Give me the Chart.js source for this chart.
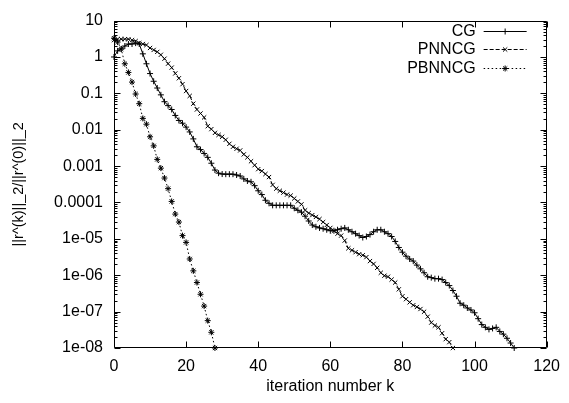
<!DOCTYPE html>
<html>
<head>
<meta charset="utf-8">
<script src="https://cdn.jsdelivr.net/npm/chart.js@4.4.1/dist/chart.umd.min.js"></script>
<style>
  body { margin: 0; background: #fff; }
  #wrap { width: 569px; height: 403px; }
</style>
</head>
<body>
<div id="wrap"><canvas id="residualChart" width="569" height="403"></canvas></div>
<script>
// relative residual per iteration k = 0, 1, 2, ...
const cgResidual = [
  1.0, 1.47, 1.66, 2.0, 2.27, 2.27, 2.41, 2.27, 1.22, 0.65,
  0.35, 0.215, 0.14, 0.091, 0.059, 0.046, 0.036, 0.0247, 0.018, 0.0151,
  0.0118, 0.0087, 0.0056, 0.0034, 0.00285, 0.00223, 0.00174, 0.0012, 7.8e-4, 6.4e-4,
  6.05e-4, 6.0e-4, 6.0e-4, 6.0e-4, 5.7e-4, 5.35e-4, 4.45e-4, 3.9e-4, 3.7e-4, 2.9e-4,
  2.1e-4, 1.65e-4, 1.15e-4, 9.5e-5, 8.35e-5, 8.35e-5, 8.35e-5, 8.35e-5, 8.35e-5, 8.35e-5,
  6.95e-5, 6.1e-5, 5.4e-5, 4.2e-5, 3.1e-5, 2.4e-5, 2.15e-5, 2.0e-5, 1.9e-5, 1.78e-5,
  1.67e-5, 1.67e-5, 1.78e-5, 1.9e-5, 2.0e-5, 1.78e-5, 1.57e-5, 1.39e-5, 1.23e-5, 1.09e-5,
  1.16e-5, 1.31e-5, 1.57e-5, 1.78e-5, 1.78e-5, 1.57e-5, 1.39e-5, 1.16e-5, 8.5e-6, 5.8e-6,
  4.3e-6, 3.35e-6, 2.8e-6, 2.45e-6, 1.9e-6, 1.5e-6, 1.17e-6, 9.1e-7, 8.6e-7, 8.05e-7,
  8.05e-7, 7.6e-7, 6.3e-7, 5.2e-7, 3.8e-7, 2.65e-7, 1.7e-7, 1.5e-7, 1.26e-7, 1.11e-7,
  9.3e-8, 6.4e-8, 4.4e-8, 3.7e-8, 3.25e-8, 3.45e-8, 3.7e-8, 2.85e-8, 2.4e-8, 1.85e-8,
  1.37e-8, 1.0e-8
];
const pnncgResidual = [
  2.9, 3.09, 3.09, 3.09, 3.09, 2.9, 2.73, 2.41, 2.27, 2.13,
  1.77, 1.56, 1.38, 1.15, 0.895, 0.655, 0.51, 0.353, 0.26, 0.179,
  0.116, 0.085, 0.052, 0.036, 0.028, 0.0218, 0.0125, 0.0104, 0.0082, 0.0072,
  0.0064, 0.0053, 0.0041, 0.0034, 0.003, 0.0027, 0.0021, 0.00174, 0.00136, 0.00106,
  8.25e-4, 7.3e-4, 6.05e-4, 5.0e-4, 3.05e-4, 2.4e-4, 2.1e-4, 1.87e-4, 1.65e-4, 1.55e-4,
  1.29e-4, 1.07e-4, 8.9e-5, 6.1e-5, 5.1e-5, 4.5e-5, 4.0e-5, 3.5e-5, 2.9e-5, 2.4e-5,
  2.0e-5, 1.67e-5, 1.39e-5, 1.23e-5, 9.0e-6, 5.5e-6, 4.85e-6, 4.3e-6, 3.8e-6, 3.55e-6,
  3.15e-6, 2.45e-6, 2.05e-6, 1.6e-6, 1.17e-6, 9.7e-7, 9.1e-7, 7.6e-7, 6.3e-7, 4.1e-7,
  2.65e-7, 2.2e-7, 1.8e-7, 1.5e-7, 1.34e-7, 1.18e-7, 9.9e-8, 7.25e-8, 5.0e-8, 4.15e-8,
  3.7e-8, 2.55e-8, 1.75e-8, 1.45e-8, 1.0e-8
];
const pbnncgResidual = [
  3.29, 2.57, 1.66, 0.65, 0.376, 0.204, 0.096, 0.052, 0.0205, 0.0142,
  0.0064, 0.0036, 0.00153, 8.8e-4, 4.7e-4, 2.4e-4, 1.07e-4, 4.8e-5, 2.9e-5, 1.23e-5,
  8.0e-6, 2.8e-6, 1.32e-6, 6.3e-7, 3.0e-7, 1.42e-7, 5.65e-8, 2.7e-8, 1.0e-8
];

const seriesNames = ['CG', 'PNNCG', 'PBNNCG'];
const xTicks = [0, 20, 40, 60, 80, 100, 120];
const yTicks = [10, 1, 0.1, 0.01, 0.001, 0.0001, 1e-5, 1e-6, 1e-7, 1e-8];
const yTickLabels = ['10', '1', '0.1', '0.01', '0.001', '0.0001', '1e-05', '1e-06', '1e-07', '1e-08'];

const FONT = '"Liberation Sans", Arial, Helvetica, sans-serif';

function toPoints(values) {
    return values.map((v, k) => ({ x: k, y: v }));
}

// gnuplot style border with inward tics on all four sides
const frameTicks = {
    id: 'frameTicks',
    afterDatasetsDraw(chart) {
        const ctx = chart.ctx;
        const a = chart.chartArea;
        const xs = chart.scales.x, ys = chart.scales.y;
        const L = Math.round(a.left) + 0.5, R = Math.round(a.right) - 0.5;
        const T = Math.round(a.top) + 0.5, B = Math.round(a.bottom) - 0.5;
        ctx.save();
        ctx.strokeStyle = '#000';
        ctx.lineWidth = 1;
        ctx.beginPath();
        ctx.rect(L, T, R - L, B - T);
        xTicks.forEach(v => {
            const x = Math.round(xs.getPixelForValue(v)) + 0.5;
            ctx.moveTo(x, B); ctx.lineTo(x, B - 6);
            ctx.moveTo(x, T); ctx.lineTo(x, T + 6);
        });
        yTicks.forEach(v => {
            const y = Math.round(ys.getPixelForValue(v)) + 0.5;
            ctx.moveTo(L, y); ctx.lineTo(L + 6, y);
            ctx.moveTo(R, y); ctx.lineTo(R - 6, y);
            if (v < 10) {
                for (let m = 2; m <= 9; m++) {
                    const ym = Math.round(ys.getPixelForValue(v * m)) + 0.5;
                    ctx.moveTo(L, ym); ctx.lineTo(L + 3, ym);
                    ctx.moveTo(R, ym); ctx.lineTo(R - 3, ym);
                }
            }
        });
        ctx.stroke();
        ctx.restore();
    }
};

// key in the top right corner: title, then line sample with marker
const keyBox = {
    id: 'keyBox',
    afterDatasetsDraw(chart) {
        const ctx = chart.ctx;
        const a = chart.chartArea;
        ctx.save();
        ctx.font = '16px ' + FONT;
        ctx.textAlign = 'right';
        ctx.textBaseline = 'middle';
        chart.data.datasets.forEach((ds, i) => {
            const y = Math.round(a.top + 10 + i * 18.5) + 0.5;
            const x0 = a.right - 63, x1 = a.right - 20;
            ctx.fillStyle = '#000';
            ctx.fillText(ds.label, a.right - 71, y);
            ctx.strokeStyle = ds.borderColor;
            ctx.lineWidth = ds.borderWidth;
            ctx.setLineDash(ds.borderDash || []);
            ctx.beginPath();
            ctx.moveTo(x0, y);
            ctx.lineTo(x1, y);
            ctx.stroke();
            ctx.setLineDash([]);
            Chart.helpers.drawPoint(ctx, { pointStyle: ds.pointStyle, radius: ds.pointRadius, borderWidth: 1, rotation: 0 }, (x0 + x1) / 2, y);
        });
        ctx.restore();
    }
};

const ctx = document.getElementById('residualChart').getContext('2d');
new Chart(ctx, {
    type: 'line',
    data: {
        datasets: [{
            label: seriesNames[0],
            data: toPoints(cgResidual),
            borderColor: '#000',
            backgroundColor: '#000',
            borderWidth: 1,
            pointStyle: 'cross',
            pointRadius: 3,
            pointBorderWidth: 1,
            tension: 0
        }, {
            label: seriesNames[1],
            data: toPoints(pnncgResidual),
            borderColor: '#000',
            backgroundColor: '#000',
            borderWidth: 1,
            borderDash: [4, 2],
            pointStyle: 'crossRot',
            pointRadius: 3,
            pointBorderWidth: 1,
            tension: 0
        }, {
            label: seriesNames[2],
            data: toPoints(pbnncgResidual),
            borderColor: '#000',
            backgroundColor: '#000',
            borderWidth: 1,
            borderDash: [1.5, 2.5],
            pointStyle: 'star',
            pointRadius: 3,
            pointBorderWidth: 1,
            tension: 0
        }]
    },
    options: {
        responsive: false,
        animation: false,
        clip: false,
        layout: { padding: { top: 13, right: 16, left: 0, bottom: 0 } },
        plugins: {
            legend: { display: false },
            tooltip: { enabled: false }
        },
        scales: {
            x: {
                type: 'linear',
                min: 0,
                max: 120,
                grid: { display: false, drawTicks: false },
                border: { display: false },
                afterBuildTicks: scale => { scale.ticks = xTicks.map(v => ({ value: v })); },
                afterFit: scale => { scale.height = 55; },
                ticks: {
                    color: '#000',
                    padding: 9,
                    maxRotation: 0,
                    font: { family: FONT, size: 16 }
                },
                title: {
                    display: true,
                    text: 'iteration number k',
                    color: '#000',
                    font: { family: FONT, size: 16 },
                    padding: { top: 0, bottom: 7 }
                }
            },
            y: {
                type: 'logarithmic',
                min: 1e-8,
                max: 10,
                grid: { display: false, drawTicks: false },
                border: { display: false },
                afterBuildTicks: scale => { scale.ticks = yTicks.map(v => ({ value: v })); },
                afterFit: scale => { scale.width = 114; },
                ticks: {
                    color: '#000',
                    padding: 11,
                    font: { family: FONT, size: 16 },
                    callback: (value, index) => yTickLabels[index]
                },
                title: {
                    display: true,
                    text: '||r^(k)||_2/||r^(0)||_2',
                    color: '#000',
                    font: { family: FONT, size: 14.5 },
                    padding: { top: 10, bottom: 0 }
                }
            }
        }
    },
    plugins: [frameTicks, keyBox]
});
</script>
</body>
</html>
